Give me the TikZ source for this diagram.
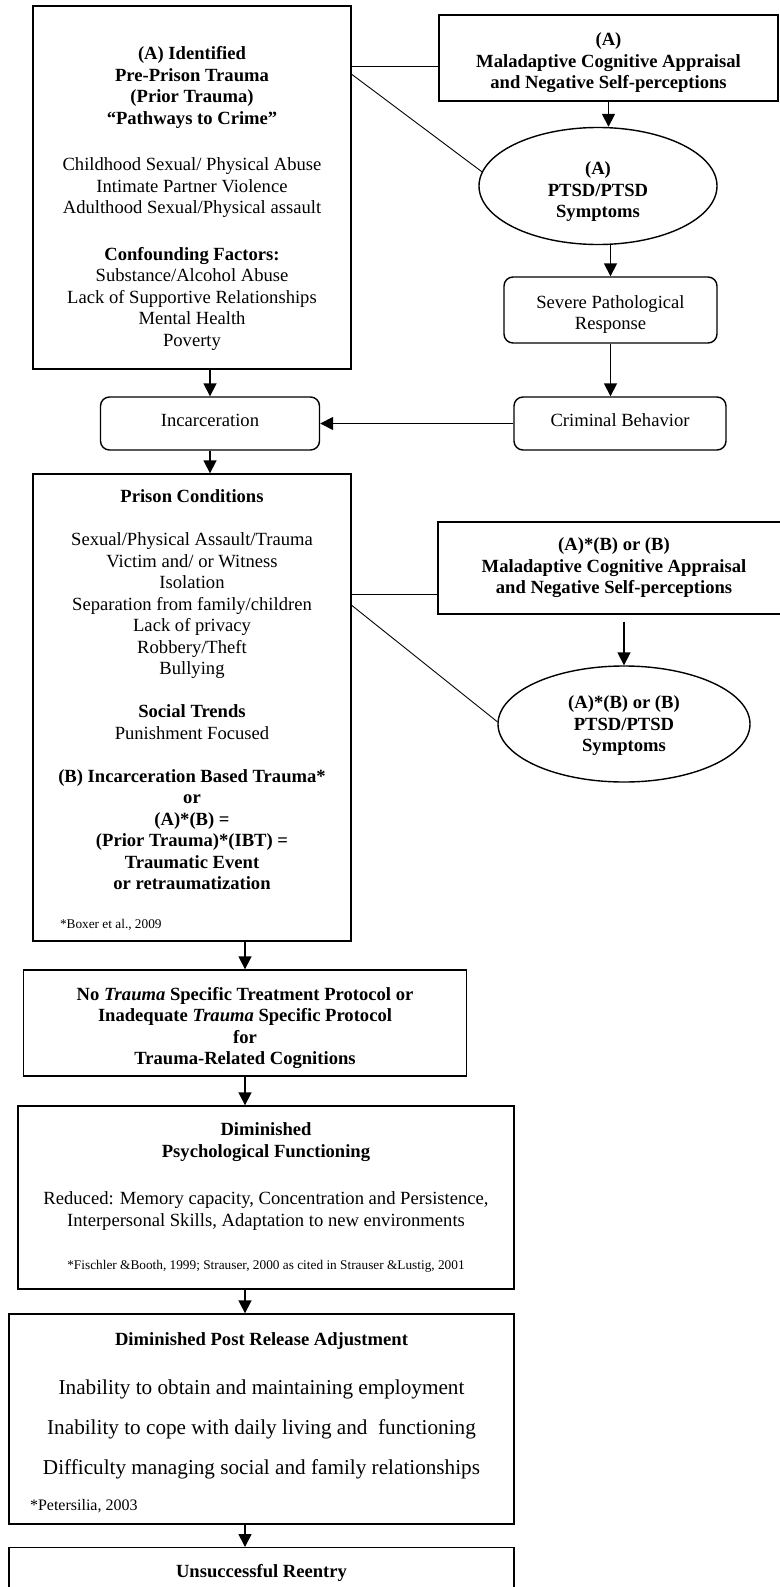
\documentclass[tikz,border=0pt]{standalone}
\usepackage{fontspec}
\setmainfont{Liberation Serif}
\usetikzlibrary{arrows.meta,shapes.geometric}
\newcommand{\topgap}[1]{\rule{0pt}{#1}}

\begin{document}
\begin{tikzpicture}[x=1pt,y=-1pt,
  box/.style={draw, line width=1.4pt, align=center, inner sep=0pt, font=\fontsize{18.6}{21.5}\selectfont},
  rbox/.style={box, rounded corners=9pt},
  oval/.style={box, ellipse},
  link/.style={line width=0.9pt},
  flow/.style={line width=1.7pt, -{Triangle[length=13pt,width=13pt]}}]
  \useasboundingbox (0,0) rectangle (779,1587);

  \node[box, text depth=0pt, minimum width=318pt, minimum height=363pt] (prior) at (192,187.5)
    {\topgap{31pt}\textbf{(A) Identified}\\ \textbf{Pre-Prison Trauma}\\ \textbf{(Prior Trauma)}\\ \textbf{“Pathways to Crime”}\\[25pt]
     Childhood Sexual/ Physical Abuse\\ Intimate Partner Violence\\ Adulthood Sexual/Physical assault\\[25pt]
     \textbf{Confounding Factors:}\\ Substance/Alcohol Abuse\\ Lack of Supportive Relationships\\ Mental Health\\ Poverty};
  \node[box, text depth=0pt, minimum width=339pt, minimum height=86pt] (appraisalA) at (608.5,58)
    {\topgap{18.6pt}\textbf{(A)}\\ \textbf{Maladaptive Cognitive Appraisal}\\ \textbf{and Negative Self-perceptions}};
  \node[oval, text depth=0pt, minimum width=238pt, minimum height=117pt] (ptsdA) at (598,186)
    {\topgap{20pt}\textbf{(A)}\\ \textbf{PTSD/PTSD}\\ \textbf{Symptoms}};
  \node[rbox, text depth=0pt, minimum width=213pt, minimum height=66pt] (severe) at (610.5,310)
    {\topgap{17.7pt}Severe Pathological\\ Response};
  \node[rbox, text depth=6pt, minimum width=212pt, minimum height=53pt] (criminal) at (620,423.5) {Criminal Behavior};
  \node[rbox, text depth=6pt, minimum width=219pt, minimum height=53pt] (incarc) at (210,423.5) {Incarceration};

  \node[box, text depth=0pt, minimum width=318pt, minimum height=467pt] (prison) at (192,707.5)
    {\topgap{16pt}\textbf{Prison Conditions}\\[21.5pt]
     Sexual/Physical Assault/Trauma\\ Victim and/ or Witness\\ Isolation\\ Separation from family/children\\ Lack of privacy\\ Robbery/Theft\\ Bullying\\[21.5pt]
     \textbf{Social Trends}\\ Punishment Focused\\[21.5pt]
     \textbf{(B) Incarceration Based Trauma*}\\ \textbf{or}\\ \textbf{(A)*(B) =}\\ \textbf{(Prior Trauma)*(IBT) =}\\ \textbf{Traumatic Event}\\ \textbf{or retraumatization}\\[17pt]
     \makebox[264pt][l]{\fontsize{13.3}{15}\selectfont *Boxer et al., 2009}};
  \node[box, minimum width=352pt, minimum height=92pt] (appraisalB) at (614,568)
    {\textbf{(A)*(B) or (B)}\\ \textbf{Maladaptive Cognitive Appraisal}\\ \textbf{and Negative Self-perceptions}};
  \node[oval, text depth=0pt, minimum width=252pt, minimum height=116pt] (ptsdB) at (624,724)
    {\textbf{(A)*(B) or (B)}\\ \textbf{PTSD/PTSD}\\ \textbf{Symptoms}};

  \node[box, text depth=0pt, minimum width=443pt, minimum height=106pt] (notreat) at (245,1023)
    {\topgap{19pt}\textbf{No \textit{Trauma} Specific Treatment Protocol or}\\ \textbf{Inadequate \textit{Trauma} Specific Protocol}\\ \textbf{for}\\ \textbf{Trauma-Related Cognitions}};
  \node[box, minimum width=496pt, minimum height=183pt] (dimpsych) at (266,1197.5)
    {\textbf{Diminished}\\ \textbf{Psychological Functioning}\\[26pt]
     Reduced: Memory capacity, Concentration and Persistence,\\ Interpersonal Skills, Adaptation to new environments\\[22pt]
     {\fontsize{13.3}{15}\selectfont *Fischler \&Booth, 1999; Strauser, 2000 as cited in Strauser \&Lustig, 2001}};
  \node[box, text depth=0pt, minimum width=505pt, minimum height=210pt] (postrel) at (261.5,1419)
    {\topgap{17pt}\textbf{Diminished Post Release Adjustment}\\[27.5pt]
     {\fontsize{21.2}{25}\selectfont Inability to obtain and maintaining employment}\\[18.5pt]
     {\fontsize{21.2}{25}\selectfont Inability to cope with daily living and\ \ functioning}\\[18.5pt]
     {\fontsize{21.2}{25}\selectfont Difficulty managing social and family relationships}\\[14.5pt]
     \makebox[463pt][l]{\fontsize{16}{18}\selectfont *Petersilia, 2003}};
  \node[box, anchor=north, minimum width=505pt, inner ysep=17pt, text height=13pt, text depth=50pt] (reentry) at (261.5,1547)
    {\textbf{Unsuccessful Reentry}};

  % side links into the appraisal boxes and ellipses
  \coordinate (joinA) at ([yshift=-8pt]appraisalA.west);
  \coordinate (joinB) at ([yshift=-26pt]appraisalB.west);
  \draw[link] (prior.east |- joinA) -- (joinA);
  \draw[link] ([yshift=-69pt]prior.north east) -- (ptsdA.173);
  \draw[link] (prison.east |- joinB) -- (joinB);
  \draw[link] ([yshift=-132pt]prison.north east) -- (ptsdB.179);

  \path[flow]
    (appraisalA.south) edge (appraisalA.south |- ptsdA.north)
    (severe.north |- ptsdA.south) edge (severe.north)
    (severe.south) edge (severe.south |- criminal.north)
    (criminal.west) edge (incarc.east)
    (prior.south -| incarc.north) edge (incarc.north)
    (incarc.south) edge (incarc.south |- prison.north)
    (ptsdB.north |- appraisalB.south) edge[shorten <=7pt] (ptsdB.north)
    (prison.south -| notreat.north) edge (notreat.north)
    (notreat.south) edge (notreat.south |- dimpsych.north)
    (dimpsych.south -| notreat.north) edge (notreat.north |- postrel.north)
    (postrel.south -| notreat.north) edge (notreat.north |- reentry.north)
  ;
\end{tikzpicture}
\end{document}
